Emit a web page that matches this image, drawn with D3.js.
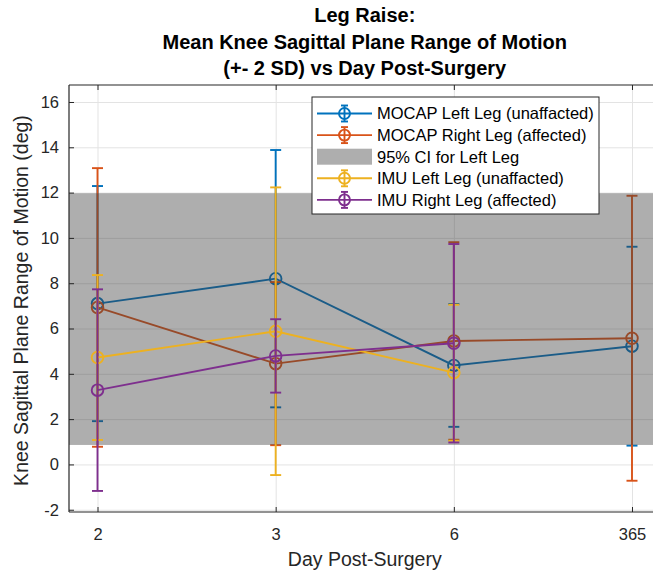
<!DOCTYPE html>
<html>
<head>
<meta charset="utf-8">
<script src="https://cdn.jsdelivr.net/npm/d3@7"></script>
<style>
  html, body { margin: 0; padding: 0; background: #fff; }
  svg { display: block; font-family: "Liberation Sans", Arial, Helvetica, sans-serif; }
</style>
</head>
<body>
<svg id="chart" width="653" height="571"></svg>
<script>
// Days after surgery (categorical x axis)
const days = ["2", "3", "6", "365"];

// Mean knee sagittal range of motion (deg) and 2*SD half-widths
const mocapLeftMean  = [7.10, 8.20, 4.37, 5.22];
const mocapLeftErr   = [5.19, 5.68, 2.71, 4.39];
const mocapRightMean = [6.93, 4.45, 5.45, 5.57];
const mocapRightErr  = [6.15, 3.60, 4.36, 6.29];
const imuLeftMean    = [4.72, 5.88, 4.05, null];
const imuLeftErr     = [3.64, 6.35, 3.00, null];
const imuRightMean   = [3.28, 4.79, 5.35, null];
const imuRightErr    = [4.45, 1.62, 4.38, null];

// 95% confidence interval for the left leg
const ciLeft = [0.86, 11.97];

const yTicks = [-2, 0, 2, 4, 6, 8, 10, 12, 14, 16];

const titleLines = ["Leg Raise:", "Mean Knee Sagittal Plane Range of Motion", "(+- 2 SD) vs Day Post-Surgery"];
const xLabel = "Day Post-Surgery";
const yLabel = "Knee Sagittal Plane Range of Motion (deg)";

const series = [
  { name: "MOCAP Left Leg (unaffacted)", mean: mocapLeftMean,  err: mocapLeftErr,  color: "#0072BD" },
  { name: "MOCAP Right Leg (affected)",  mean: mocapRightMean, err: mocapRightErr, color: "#D95319" },
  { name: "IMU Left Leg (unaffacted)",   mean: imuLeftMean,    err: imuLeftErr,    color: "#EDB120" },
  { name: "IMU Right Leg (affected)",    mean: imuRightMean,   err: imuRightErr,   color: "#7E2F8E" }
];
const bandName = "95% CI for Left Leg";
const bandFill = "rgb(64,64,64)", bandOpacity = 0.425;

const svg = d3.select("#chart");
const plotL = 69, plotR = 660.5, plotT = 85, plotB = 512;

const x = d3.scalePoint().domain(days).range([plotL, plotR]).padding(0.16);
const y = d3.scaleLinear().domain([-2.1, 16.75]).range([plotB, plotT]);

const ink = "#262626";
const lw = 1.9;

// grid
const grid = svg.append("g");
grid.append("g").attr("transform", `translate(0,${plotB})`)
  .call(d3.axisBottom(x).tickSize(-(plotB - plotT)).tickFormat(""))
  .call(g => g.select(".domain").remove())
  .call(g => g.selectAll("line").attr("stroke", "#E3E3E3").attr("stroke-width", 1));
grid.append("g").attr("transform", `translate(${plotL},0)`)
  .call(d3.axisLeft(y).tickValues(yTicks).tickSize(-(plotR - plotL)).tickFormat(""))
  .call(g => g.select(".domain").remove())
  .call(g => g.selectAll("line").attr("stroke", "#E3E3E3").attr("stroke-width", 1));

function drawSeries(s) {
  const g = svg.append("g");
  const pts = days.map((d, i) => ({ d, m: s.mean[i], e: s.err[i] })).filter(p => p.m != null);
  g.append("path")
    .attr("d", d3.line().x(p => x(p.d)).y(p => y(p.m))(pts))
    .attr("fill", "none").attr("stroke", s.color).attr("stroke-width", lw);
  const cap = 5.5;
  pts.forEach(p => {
    const cx = x(p.d);
    g.append("line").attr("x1", cx).attr("x2", cx)
      .attr("y1", y(p.m + p.e)).attr("y2", y(p.m - p.e))
      .attr("stroke", s.color).attr("stroke-width", lw);
    [p.m + p.e, p.m - p.e].forEach(v => {
      g.append("line").attr("x1", cx - cap).attr("x2", cx + cap)
        .attr("y1", y(v)).attr("y2", y(v))
        .attr("stroke", s.color).attr("stroke-width", lw);
    });
    g.append("circle").attr("cx", cx).attr("cy", y(p.m)).attr("r", 5.8)
      .attr("fill", "none").attr("stroke", s.color).attr("stroke-width", lw);
  });
}

// MOCAP series, then the CI band, then the IMU series
drawSeries(series[0]);
drawSeries(series[1]);
svg.append("rect")
  .attr("x", plotL).attr("width", plotR - plotL)
  .attr("y", y(ciLeft[1])).attr("height", y(ciLeft[0]) - y(ciLeft[1]))
  .attr("fill", bandFill).attr("fill-opacity", bandOpacity);
drawSeries(series[2]);
drawSeries(series[3]);

// axes
const xAxis = svg.append("g").attr("transform", `translate(0,${plotB})`)
  .call(d3.axisBottom(x).tickSize(-5).tickPadding(16).tickSizeOuter(0));
const xTop = svg.append("g").attr("transform", `translate(0,${plotT})`)
  .call(d3.axisTop(x).tickSize(-5).tickFormat("").tickSizeOuter(0));
const yAxis = svg.append("g").attr("transform", `translate(${plotL},0)`)
  .call(d3.axisLeft(y).tickValues(yTicks).tickFormat(d => String(d))
    .tickSize(-5).tickPadding(10).tickSizeOuter(0));
[xAxis, xTop, yAxis].forEach(a => {
  a.select(".domain").attr("stroke", ink).attr("stroke-width", 1.2);
  a.selectAll(".tick line").attr("stroke", ink).attr("stroke-width", 1);
  a.selectAll("text").attr("fill", ink).attr("font-size", 16.5)
    .attr("font-family", "Liberation Sans, Arial, sans-serif");
});
xAxis.select(".domain").attr("d", `M${plotL},0H${plotR}`);
xTop.select(".domain").attr("d", `M${plotL},0H${plotR}`);
yAxis.select(".domain").attr("d", `M0,${plotT}V${plotB}`);

// axis labels
svg.append("text").attr("x", (plotL + plotR) / 2).attr("y", 566)
  .attr("text-anchor", "middle").attr("font-size", 19.5).attr("fill", ink).text(xLabel);
svg.append("text").attr("transform", `translate(28,${(plotT + plotB) / 2 + 2}) rotate(-90)`)
  .attr("text-anchor", "middle").attr("font-size", 19.5).attr("fill", ink).text(yLabel);

// title
const titleY = [22, 49, 75];
titleLines.forEach((t, i) => {
  svg.append("text").attr("x", (plotL + plotR) / 2).attr("y", titleY[i])
    .attr("text-anchor", "middle").attr("font-size", 20).attr("font-weight", "bold")
    .attr("fill", "#000").text(t);
});

// legend
const lg = svg.append("g");
const lx = 312, ly = 97, lwid = 287, lh = 117;
lg.append("rect").attr("x", lx).attr("y", ly).attr("width", lwid).attr("height", lh)
  .attr("fill", "#fff").attr("stroke", ink).attr("stroke-width", 1);
const entries = [series[0], series[1], { band: true, name: bandName }, series[2], series[3]];
entries.forEach((e, i) => {
  const ry = 113.5 + i * 21.6;
  if (e.band) {
    lg.append("rect").attr("x", 317).attr("y", ry - 8).attr("width", 55).attr("height", 16)
      .attr("fill", bandFill).attr("fill-opacity", bandOpacity);
  } else {
    lg.append("line").attr("x1", 317).attr("x2", 372).attr("y1", ry).attr("y2", ry)
      .attr("stroke", e.color).attr("stroke-width", lw);
    lg.append("line").attr("x1", 344.5).attr("x2", 344.5).attr("y1", ry - 8).attr("y2", ry + 8)
      .attr("stroke", e.color).attr("stroke-width", lw);
    [ry - 8, ry + 8].forEach(v => lg.append("line").attr("x1", 341).attr("x2", 348)
      .attr("y1", v).attr("y2", v).attr("stroke", e.color).attr("stroke-width", lw));
    lg.append("circle").attr("cx", 344.5).attr("cy", ry).attr("r", 5.5)
      .attr("fill", "none").attr("stroke", e.color).attr("stroke-width", lw);
  }
  lg.append("text").attr("x", 377).attr("y", ry + 5.8).attr("font-size", 16.5)
    .attr("fill", "#000").text(e.name);
});
</script>
</body>
</html>
